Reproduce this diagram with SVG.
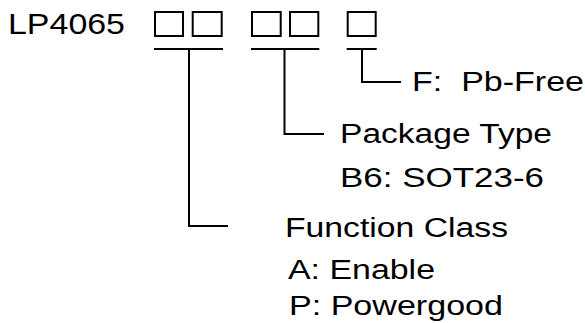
<svg xmlns="http://www.w3.org/2000/svg" width="585" height="323" viewBox="0 0 585 323">
<style>
.box{fill:none;stroke:#000;stroke-width:2}
.ln{fill:none;stroke:#000;stroke-width:2}
text{font-family:"Liberation Sans",Arial,sans-serif;fill:#000;white-space:pre}
.t{font-size:27px}
</style>
<rect width="585" height="323" fill="#fff"/>
<g id="title"><text x="8" y="34.3" font-size="30" textLength="117" lengthAdjust="spacingAndGlyphs">LP4065</text></g>
<g id="boxes">
<rect class="box" x="155" y="12" width="28" height="24"/>
<rect class="box" x="192.7" y="12" width="29" height="24"/>
<rect class="box" x="252" y="12" width="28.7" height="24"/>
<rect class="box" x="290" y="12" width="28.3" height="24"/>
<rect class="box" x="347.7" y="12" width="28" height="24"/>
</g>
<g id="connectors">
<path class="ln" d="M154 49H223M251 49H319.3M346.7 49H376.7"/>
<path class="ln" d="M189 49V226H228"/>
<path class="ln" d="M284.5 49V134H324"/>
<path class="ln" d="M362 49V82H401"/>
</g>
<g id="pbfree"><text class="t" x="412" y="90.7" textLength="172" lengthAdjust="spacingAndGlyphs">F:  Pb-Free</text></g>
<g id="package">
<text class="t" x="340" y="143" textLength="212" lengthAdjust="spacingAndGlyphs">Package Type</text>
<text class="t" x="340" y="186.5" textLength="204" lengthAdjust="spacingAndGlyphs">B6: SOT23-6</text>
</g>
<g id="function">
<text class="t" x="285" y="236.5" textLength="223" lengthAdjust="spacingAndGlyphs">Function Class</text>
<text class="t" x="288" y="279" textLength="147" lengthAdjust="spacingAndGlyphs">A: Enable</text>
<text class="t" x="289" y="315" textLength="214" lengthAdjust="spacingAndGlyphs">P: Powergood</text>
</g>
</svg>
